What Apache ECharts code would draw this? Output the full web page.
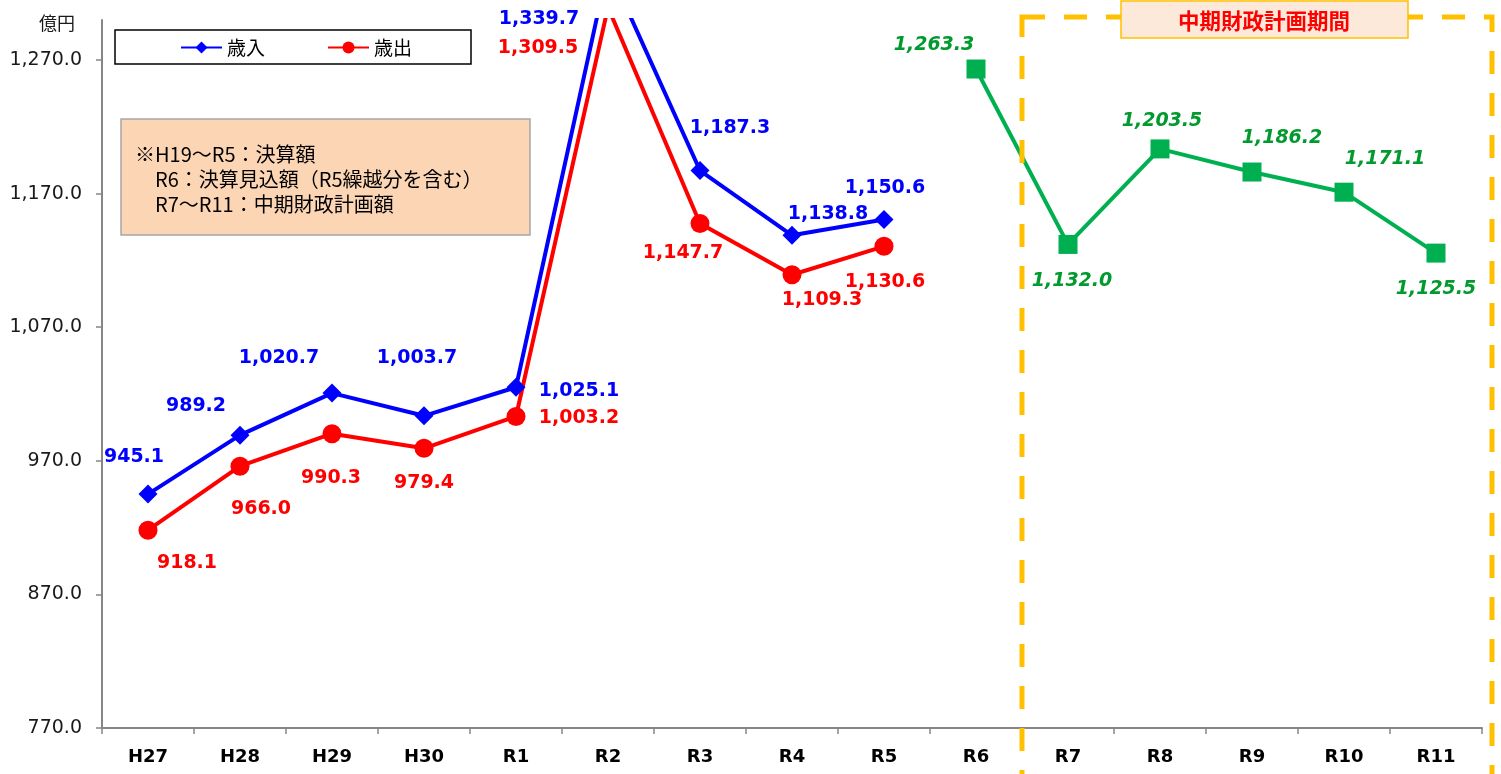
<!DOCTYPE html>
<html>
<head>
<meta charset="utf-8">
<script src="https://cdn.jsdelivr.net/npm/echarts@6/dist/echarts.min.js"></script>
<style>
  html, body { margin: 0; padding: 0; background: #ffffff; }
  #chart { width: 1501px; height: 774px; }
</style>
</head>
<body>
<div id="chart"></div>
<script>
// ---- data ----
const categories = ['H27', 'H28', 'H29', 'H30', 'R1', 'R2', 'R3', 'R4', 'R5', 'R6', 'R7', 'R8', 'R9', 'R10', 'R11'];
const revenue     = [945.1, 989.2, 1020.7, 1003.7, 1025.1, 1339.7, 1187.3, 1138.8, 1150.6];
const expenditure = [918.1, 966.0, 990.3, 979.4, 1003.2, 1309.5, 1147.7, 1109.3, 1130.6];
const plan        = [null, null, null, null, null, null, null, null, null, 1263.3, 1132.0, 1203.5, 1186.2, 1171.1, 1125.5];
const yTicks      = [770, 870, 970, 1070, 1170, 1270];
const seriesNames = ['歳入', '歳出', '中期財政計画'];
const noteLines   = ['※H19～R5：決算額', '　R6：決算見込額（R5繰越分を含む）', '　R7～R11：中期財政計画額'];
const periodTitle = '中期財政計画期間';
const unitLabel   = '億円';

// ---- label placement (offsets of each value label from its point) ----
const revOffsets  = [[-14, -37], [-44, -29], [-53, -35], [-7, -58], [63, 4], [0, 0], [30, -42], [36, -21], [1, -32]];
const expOffsets  = [[39, 33], [21, 43], [-1, 44], [0, 35], [63, 2], [0, 0], [-17, 30], [30, 25], [1, 36]];
const planOffsets = [null, null, null, null, null, null, null, null, null, [-42, -24], [4, 37], [2, -28], [30, -34], [41, -33], [0, 36]];

const fmt = v => Number(v).toLocaleString('en-US', { minimumFractionDigits: 1, maximumFractionDigits: 1 });
const labelFont = 'DejaVu Sans';
const labelSize = 19;

function mkData(values, offsets) {
  return values.map((v, i) => {
    if (v === null) return null;
    return { value: v, label: { offset: offsets[i] || [0, 0] } };
  });
}

const chart = echarts.init(document.getElementById('chart'), null, { renderer: 'canvas' });

const option = {
  animation: false,
  backgroundColor: '#ffffff',
  grid: { left: 102, right: 19, top: 20, bottom: 46, containLabel: false },
  legend: {
    data: [seriesNames[0], seriesNames[1]],
    left: 115, top: 30,
    padding: [8, 59, 7, 65],
    itemGap: 62,
    itemWidth: 41, itemHeight: 15,
    borderColor: '#000000', borderWidth: 1.5,
    backgroundColor: '#ffffff',
    textStyle: { fontFamily: 'Noto Sans CJK JP', fontSize: 19, color: '#000000' }
  },
  xAxis: {
    type: 'category',
    data: categories,
    boundaryGap: true,
    axisLine: { lineStyle: { color: '#868686', width: 2 } },
    axisTick: { show: true, length: 6, lineStyle: { color: '#868686', width: 1.5 } },
    axisLabel: { margin: 20, fontFamily: labelFont, fontWeight: 'bold', fontSize: 18, color: '#000000' },
    splitLine: { show: false }
  },
  yAxis: {
    type: 'value',
    min: 770, max: 1300,
    axisLine: { show: true, lineStyle: { color: '#868686', width: 2 } },
    axisTick: { show: true, length: 6, customValues: yTicks, lineStyle: { color: '#868686', width: 1.5 } },
    axisLabel: { margin: 20, customValues: yTicks, fontFamily: labelFont, fontSize: 19, color: '#1a1a1a', formatter: v => fmt(v) },
    splitLine: { show: false }
  },
  series: [
    {
      name: seriesNames[0], type: 'line', clip: true,
      data: mkData(revenue, revOffsets),
      symbol: 'diamond', symbolSize: 19,
      lineStyle: { color: '#0000FF', width: 4 },
      itemStyle: { color: '#0000FF' },
      label: { show: true, position: 'inside', formatter: p => fmt(p.value), fontFamily: labelFont, fontWeight: 'bold', fontSize: labelSize, color: '#0000FF' },
      z: 3
    },
    {
      name: seriesNames[1], type: 'line', clip: true,
      data: mkData(expenditure, expOffsets),
      symbol: 'circle', symbolSize: 19,
      lineStyle: { color: '#FF0000', width: 4 },
      itemStyle: { color: '#FF0000' },
      label: { show: true, position: 'inside', formatter: p => fmt(p.value), fontFamily: labelFont, fontWeight: 'bold', fontSize: labelSize, color: '#FF0000' },
      z: 3
    },
    {
      name: seriesNames[2], type: 'line', clip: true,
      data: mkData(plan, planOffsets),
      symbol: 'rect', symbolSize: 19,
      lineStyle: { color: '#00B050', width: 4 },
      itemStyle: { color: '#00B050' },
      label: { show: true, position: 'inside', formatter: p => fmt(p.value), fontFamily: labelFont, fontWeight: 'bold', fontStyle: 'italic', fontSize: labelSize, color: '#009A2E' },
      z: 3
    }
  ]
};

chart.setOption(option);

// ---- annotations placed with the chart's own scales ----
const xR2  = chart.convertToPixel({ xAxisIndex: 0 }, 'R2');
const xR6  = chart.convertToPixel({ xAxisIndex: 0 }, 'R6');
const xR7  = chart.convertToPixel({ xAxisIndex: 0 }, 'R7');
const xR11 = chart.convertToPixel({ xAxisIndex: 0 }, 'R11');
const band = xR7 - xR6;
const boxLeft = xR6 + band / 2;
const boxRight = xR11 + band / 2 + 10;
const boxTop = 17;

const graphics = [
  // R2 labels (points beyond the axis top)
  { type: 'text', z: 10, x: xR2 - 69, y: 19, style: { text: fmt(revenue[5]), fontFamily: labelFont, fontWeight: 'bold', fontSize: labelSize, fill: '#0000FF', align: 'center', verticalAlign: 'middle' } },
  { type: 'text', z: 10, x: xR2 - 70, y: 48, style: { text: fmt(expenditure[5]), fontFamily: labelFont, fontWeight: 'bold', fontSize: labelSize, fill: '#FF0000', align: 'center', verticalAlign: 'middle' } },
  // dashed period box
  { type: 'rect', z: 5, shape: { x: boxLeft, y: boxTop, width: boxRight - boxLeft, height: 800 },
    style: { fill: 'none', stroke: '#FFC000', lineWidth: 5, lineDash: [23, 19] } },
  // period title
  { type: 'rect', z: 6, shape: { x: 1121, y: 1, width: 287, height: 37 },
    style: { fill: '#FDE9D9', stroke: '#FFC000', lineWidth: 1.5 } },
  { type: 'text', z: 7, x: 1264, y: 21, style: { text: periodTitle, fontFamily: 'Noto Sans CJK JP', fontWeight: 'bold', fontSize: 21.5, fill: '#FF0000', align: 'center', verticalAlign: 'middle' } },
  // unit
  { type: 'text', z: 7, x: 57, y: 23, style: { text: unitLabel, fontFamily: 'Noto Sans CJK JP', fontSize: 18, fill: '#1a1a1a', align: 'center', verticalAlign: 'middle' } },
  // note box
  { type: 'rect', z: 6, shape: { x: 121, y: 119, width: 409, height: 116 },
    style: { fill: '#FCD5B5', stroke: '#A6A6A6', lineWidth: 1.5 } }
];
noteLines.forEach((t, i) => {
  graphics.push({ type: 'text', z: 7, x: 135, y: 154 + i * 25,
    style: { text: t, fontFamily: 'Noto Sans CJK JP', fontSize: 20, fill: '#000000', align: 'left', verticalAlign: 'middle' } });
});

chart.setOption({ graphic: graphics });
</script>
</body>
</html>
